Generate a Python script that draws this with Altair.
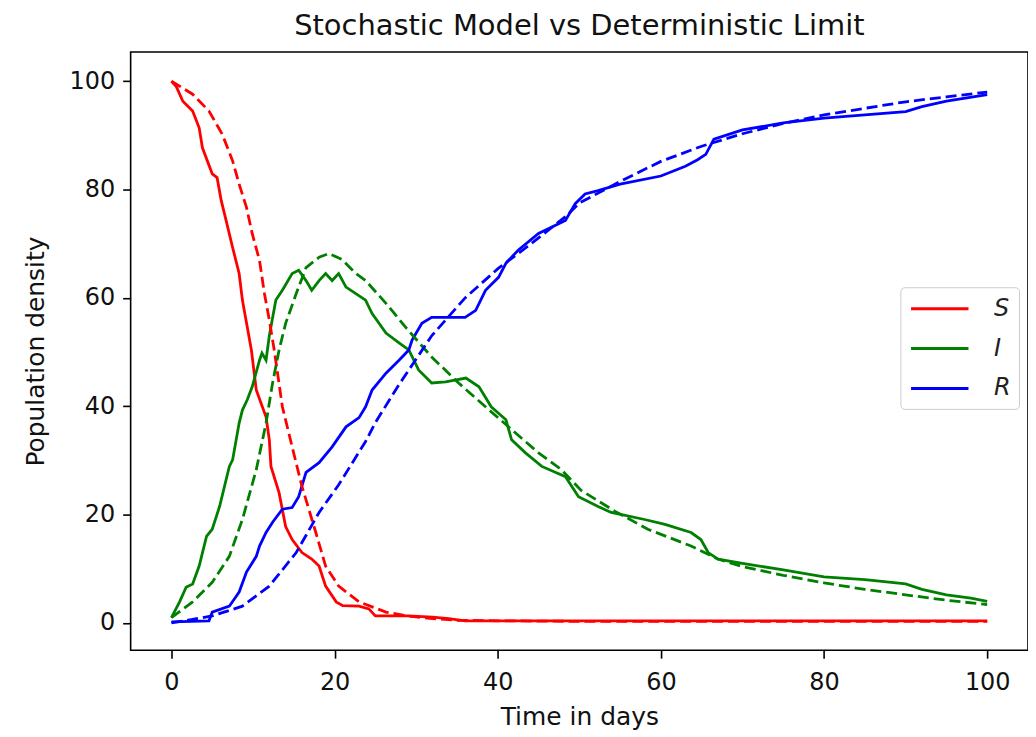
import altair as alt
import pandas as pd

# ---- data ----
S_stoch_t = [0, 0.6, 1.4, 2.6, 3.4, 3.8, 5, 5.6, 6.1, 6.7, 7.5, 8.3, 8.7, 9.3, 9.8, 10.4, 11.6, 12, 12.2, 13.2, 14, 14.8, 16, 17.2, 18.1, 18.9, 20.2, 21, 23, 24.2, 25, 29, 32, 34, 36, 100]
S_stoch_v = [100, 99, 96.3, 94.5, 91.4, 87.7, 82.9, 82.2, 78, 74.3, 69.3, 64.5, 59.6, 54.6, 50.4, 43, 38, 33.8, 28.9, 24, 17.8, 15.4, 13, 11.8, 10.5, 6.8, 3.9, 3.2, 3.1, 2.6, 1.3, 1.3, 1.1, 0.8, 0.4, 0.4]

S_det_t = [0, 2.6, 4.6, 6.2, 7.5, 8.3, 9.2, 9.9, 10.8, 11.4, 12, 12.6, 13.6, 14.8, 16, 17.7, 18.9, 20.5, 23, 26.3, 29, 32, 35, 40, 50, 100]
S_det_v = [100, 97.6, 94.5, 90.3, 85.3, 81, 76.7, 71.9, 66.9, 60.8, 55.9, 50.4, 39.9, 32.5, 25.2, 16.7, 10.5, 6.8, 3.9, 2.0, 1.3, 0.8, 0.5, 0.4, 0.3, 0.3]

I_stoch_t = [0, 1, 1.8, 2.6, 3.4, 4.3, 5, 5.9, 7.1, 7.5, 8.3, 8.7, 9.3, 9.9, 10.8, 11.1, 11.6, 12, 12.8, 13.6, 14.8, 15.6, 16.5, 17.2, 18.1, 18.9, 19.7, 20.5, 21.4, 22.6, 23.8, 24.6, 26.3, 27.9, 29.1, 30.3, 31.9, 33.6, 36.1, 37.7, 39.2, 41, 41.7, 43.4, 45.4, 48.3, 49.9, 52.3, 53.9, 58, 60.5, 63.7, 64.9, 65.8, 67, 70, 75, 80, 85, 90, 92, 95, 98, 100]
I_stoch_v = [1, 3.9, 6.6, 7.2, 10.5, 16, 17.3, 21.5, 28.9, 30.1, 36.9, 39.3, 41.2, 43.6, 48.5, 49.8, 48.5, 53, 59.6, 61.4, 64.5, 65.1, 63.2, 61.4, 63.2, 64.5, 63.2, 64.5, 62, 60.8, 59.6, 57.1, 53.5, 51.7, 50.4, 46.7, 44.3, 44.5, 45.2, 43.6, 39.9, 37.5, 33.8, 31.4, 28.9, 27, 23.3, 21.5, 20.4, 19.1, 18.2, 16.7, 15.4, 13, 11.8, 11, 9.8, 8.5, 8, 7.2, 6.2, 5.2, 4.6, 4]

I_det_t = [0, 2.6, 5, 7.1, 8.7, 10.4, 11.6, 12.4, 13.2, 14, 15.3, 16.5, 18.1, 19.3, 20.9, 22.6, 23.8, 26.3, 28.7, 31.9, 35.2, 38.5, 41.7, 45, 47.8, 50.2, 54.4, 58.4, 63.7, 67, 70, 75, 80, 85, 90, 95, 100]
I_det_v = [1, 3.9, 7.5, 12.3, 19.1, 28.3, 36.9, 44.3, 50.4, 55.3, 60.8, 65.6, 67.5, 68.2, 67.1, 64.5, 63.2, 59, 54.6, 49.1, 44.3, 39.9, 35.7, 31.4, 28.3, 24.5, 20.6, 17.3, 14.2, 11.8, 10.4, 8.8, 7.4, 6.2, 5.2, 4.2, 3.4]

R_stoch_t = [0, 4.6, 5, 7.1, 8.3, 9.2, 10.4, 10.8, 11.6, 12.4, 13.6, 14.8, 15.6, 16.5, 18.1, 19.7, 21.4, 23, 23.8, 24.6, 26.3, 27.9, 29.1, 29.5, 30.7, 31.9, 36, 37.3, 38.5, 40.1, 41, 42.5, 45, 48.3, 49.5, 50.7, 52.3, 55, 60, 63, 64.5, 65.5, 66.5, 70, 75, 80, 85, 90, 92, 95, 100]
R_stoch_v = [0.2, 0.4, 2, 3.1, 5.7, 9.4, 12.3, 14.2, 16.7, 18.6, 21, 21.3, 23.3, 27.8, 29.6, 32.5, 36.2, 37.9, 39.9, 43, 46.1, 48.5, 50.4, 52.2, 55.3, 56.4, 56.4, 57.7, 61.4, 63.8, 66.4, 68.8, 71.9, 74.3, 77.4, 79.2, 79.8, 81, 82.5, 84.3, 85.5, 86.5, 89.3, 91, 92.3, 93.2, 93.8, 94.4, 95.3, 96.3, 97.5]

R_det_t = [0, 5, 8.7, 12, 15.3, 18.1, 20.5, 23.8, 25, 27.9, 31.9, 36, 40.1, 44.1, 48.3, 50, 55, 60, 65, 70, 75, 80, 85, 90, 95, 100]
R_det_v = [0, 1.3, 3.1, 6.8, 13, 20.4, 25.5, 33.5, 37, 44, 53, 60, 65.5, 70, 75, 77.5, 81.5, 85.2, 88, 90.3, 92.2, 93.8, 95, 96.2, 97.1, 98]

components = ["S", "I", "R"]
colors = ["#ff0000", "#008000", "#0000ff"]

series = [
    ("S", "stochastic", S_stoch_t, S_stoch_v),
    ("S", "deterministic", S_det_t, S_det_v),
    ("I", "stochastic", I_stoch_t, I_stoch_v),
    ("I", "deterministic", I_det_t, I_det_v),
    ("R", "stochastic", R_stoch_t, R_stoch_v),
    ("R", "deterministic", R_det_t, R_det_v),
]
rows = []
for comp, kind, ts, vs in series:
    for t, v in zip(ts, vs):
        rows.append({"t": t, "v": v, "comp": comp, "kind": kind})
df = pd.DataFrame(rows)

FONT = "DejaVu Sans"

x_enc = alt.X("t:Q", title="Time in days",
              scale=alt.Scale(domain=[-5, 105], nice=False, zero=False),
              axis=alt.Axis(values=[0, 20, 40, 60, 80, 100], grid=False,
                            labelPadding=12, titlePadding=11))
y_enc = alt.Y("v:Q", title="Population density",
              scale=alt.Scale(domain=[-5.02, 105.4], nice=False, zero=False),
              axis=alt.Axis(values=[0, 20, 40, 60, 80, 100], grid=False,
                            labelPadding=8, titlePadding=21))
color_scale = alt.Scale(domain=components, range=colors)

solid = alt.Chart(df).transform_filter(alt.datum.kind == "stochastic").mark_line(
    strokeWidth=2.8
).encode(
    x=x_enc, y=y_enc,
    color=alt.Color("comp:N", scale=color_scale, sort=components,
                    legend=alt.Legend(title=None, orient="none", legendX=772, legendY=236,
                                      symbolType="M-2.4,0H2.4", symbolSize=576,
                                      symbolStrokeWidth=3, symbolOffset=18,
                                      labelFontSize=24,
                                      labelFontStyle="italic", labelFont=FONT,
                                      labelColor="#222222",
                                      labelOffset=41, padding=8, rowPadding=14,
                                      fillColor="white", strokeColor="#cccccc",
                                      cornerRadius=4)),
    detail="kind:N",
)

dashed = alt.Chart(df).transform_filter(alt.datum.kind == "deterministic").mark_line(
    strokeWidth=2.8, strokeDash=[11, 5]
).encode(
    x=x_enc, y=y_enc,
    color=alt.Color("comp:N", scale=color_scale, sort=components, legend=None),
)

chart = alt.layer(solid, dashed).properties(
    width=900, height=600,
    title=alt.TitleParams("Stochastic Model vs Deterministic Limit", fontSize=29,
                          font=FONT, fontWeight="normal", color="#111111",
                          anchor="middle", offset=11),
    autosize=alt.AutoSizeParams(type="none"),
    padding={"left": 123, "top": 43, "right": 0, "bottom": 84},
).configure_view(
    stroke="black", strokeWidth=1.6
).configure_axis(
    domain=False, tickColor="black", tickWidth=1.6, tickSize=8,
    labelFont=FONT, labelFontSize=24, labelColor="#111111",
    titleFont=FONT, titleFontSize=25, titleFontWeight="normal", titleColor="#111111",
)

chart.save("out.html", embed_options={"renderer": "svg", "actions": False})
